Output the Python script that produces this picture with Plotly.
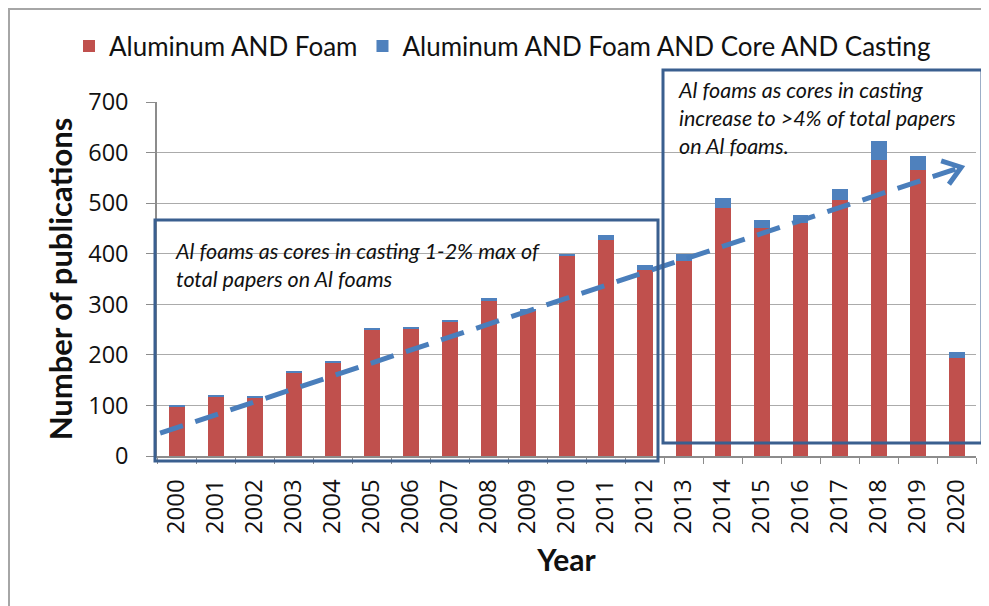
import math
import plotly.graph_objects as go

years = [str(y) for y in range(2000, 2021)]
foam = [98, 118, 116, 166, 185, 250, 252, 266, 307, 288, 396, 428, 367,
        385, 491, 451, 461, 507, 585, 565, 194]
core_casting = [2, 1, 2, 2, 3, 2, 2, 2, 6, 1, 4, 10, 10,
                15, 20, 15, 16, 21, 37, 28, 11]

# dashed trend arrow (category index, value)
trend_x = [-0.42, 20.12]
trend_y = [45, 571]

RED = "#C0504D"
BLUE = "#4F81BD"
ARROW = "#4A7EBB"
BOX = "#3A5F8F"
GRID = "#ABABAB"
AXIS = "#8C8C8C"
TXT = "Lato, sans-serif"
TICKF = "Open Sans, sans-serif"

OFF = 8  # page body margin
W, H = 989 - OFF, 606 - OFF
L, R, T, B = 157 - OFF, 13, 102 - OFF, 150
pw, ph = W - L - R, H - T - B
xs = pw / 21.0      # px per category unit
ys = ph / 700.0     # px per value unit


def px(x):
    return (x - OFF - L) / pw


def py(y):
    return (H - B - (y - OFF)) / ph


# open chevron arrowhead at the end of the trend line
dxp = (trend_x[1] - trend_x[0]) * xs
dyp = (trend_y[1] - trend_y[0]) * ys
n = math.hypot(dxp, dyp)
ux, uy = dxp / n, dyp / n
arm, ang = 21, math.radians(36)
head_x, head_y = [], []
for s in (1, -1):
    c, si = math.cos(s * ang), math.sin(s * ang)
    rx, ry = ux * c - uy * si, ux * si + uy * c
    head_x.append(trend_x[1] - arm * rx / xs)
    head_y.append(trend_y[1] - arm * ry / ys)
chev_x = [head_x[0], trend_x[1], head_x[1]]
chev_y = [head_y[0], trend_y[1], head_y[1]]

fig = go.Figure()
fig.add_trace(go.Bar(x=years, y=foam, name="Aluminum AND Foam",
                     marker=dict(color=RED, line=dict(width=0))))
fig.add_trace(go.Bar(x=years, y=core_casting,
                     name="Aluminum AND Foam AND Core AND Casting",
                     marker=dict(color=BLUE, line=dict(width=0))))
fig.add_trace(go.Scatter(x=trend_x, y=trend_y, xaxis="x2", yaxis="y",
                         mode="lines", showlegend=False, hoverinfo="skip",
                         line=dict(color=ARROW, width=5, dash="24px,13px")))
fig.add_trace(go.Scatter(x=chev_x, y=chev_y, xaxis="x2", yaxis="y",
                         mode="lines", showlegend=False, hoverinfo="skip",
                         line=dict(color=ARROW, width=5)))

shapes = [
    dict(type="rect", xref="paper", yref="paper", x0=px(9), x1=px(1010),
         y0=py(640), y1=py(9), line=dict(color="#A6A6A6", width=2)),
    dict(type="rect", xref="paper", yref="paper", x0=px(155), x1=px(658),
         y0=py(461), y1=py(220), line=dict(color=BOX, width=3)),
    dict(type="rect", xref="paper", yref="paper", x0=px(663), x1=px(982),
         y0=py(443), y1=py(70), line=dict(color=BOX, width=3)),
]

annotations = [
    dict(xref="paper", yref="paper", x=px(173), y=py(265), xanchor="left",
         yanchor="middle", align="left", showarrow=False,
         text="<i>Al foams as cores in casting 1-2% max of<br>total papers on Al foams</i>",
         font=dict(family=TXT, size=21.5, color="#111111")),
    dict(xref="paper", yref="paper", x=px(676), y=py(118), xanchor="left",
         yanchor="middle", align="left", showarrow=False,
         text="<i>Al foams as cores in casting<br>increase to >4% of total papers<br>on Al foams.</i>",
         font=dict(family=TXT, size=21.5, color="#111111")),
]

fig.update_layout(
    width=W, height=H,
    margin=dict(l=L, r=R, t=T, b=B, autoexpand=False),
    paper_bgcolor="white", plot_bgcolor="white",
    barmode="stack", bargap=0.59,
    showlegend=True,
    legend=dict(orientation="h", x=px(69), y=py(46), xanchor="left",
                yanchor="middle", font=dict(family=TXT, size=26, color="#111111"),
                traceorder="normal", bgcolor="rgba(0,0,0,0)"),
    xaxis=dict(type="category", range=[-0.5, 20.5], tickson="boundaries",
               ticks="outside", ticklen=6, tickcolor=AXIS, showline=True,
               linecolor=AXIS, linewidth=1.5, showgrid=False, tickangle=-90,
               ticklabelstandoff=12, automargin=False,
               tickfont=dict(family=TICKF, size=24, color="#111111"),
               title=dict(text="<b>Year</b>", standoff=17,
                          font=dict(family=TXT, size=30, color="#111111"))),
    xaxis2=dict(overlaying="x", range=[-0.5, 20.5], visible=False),
    yaxis=dict(range=[0, 700], dtick=100, showgrid=True, gridcolor=GRID,
               gridwidth=1, ticks="outside", ticklen=9, tickcolor=AXIS,
               showline=True, linecolor=AXIS, linewidth=1.5, zeroline=False,
               ticklabelstandoff=13, automargin=False,
               tickfont=dict(family=TICKF, size=23.5, color="#111111"),
               title=dict(text="<b>Number of publications</b>", standoff=6,
                          font=dict(family=TXT, size=31, color="#111111"))),
    shapes=shapes,
    annotations=annotations,
)

fig.write_html("out.html")
